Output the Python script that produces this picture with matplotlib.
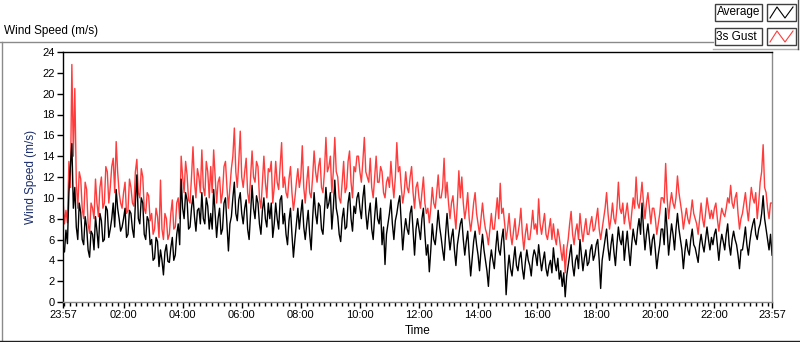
import numpy as np
import matplotlib
matplotlib.use("Agg")
import matplotlib.pyplot as plt
from matplotlib.lines import Line2D
from matplotlib.patches import Rectangle

# Wind speed (m/s), one reading every 3 min from 23:57 to 23:57,
# one line per hour
average = [
    5.2, 4.8, 6.9, 5.6, 10.5, 13.0, 15.2, 9.0, 11.0, 7.2, 6.0, 9.5, 8.6, 6.0, 5.5, 8.2, 7.2, 5.0, 4.3, 6.8,
    6.5, 5.0, 8.2, 6.8, 5.2, 8.5, 7.8, 5.8, 6.0, 9.2, 8.8, 6.2, 7.0, 8.0, 9.5, 7.2, 10.8, 9.0, 8.0, 6.8,
    7.2, 8.0, 9.0, 6.2, 6.5, 8.8, 8.5, 7.0, 6.2, 9.5, 12.2, 8.0, 7.5, 10.0, 9.5, 6.5, 6.0, 8.2, 7.8, 5.5,
    6.0, 4.0, 4.2, 6.2, 5.8, 3.4, 5.0, 4.0, 2.6, 4.8, 5.5, 3.9, 3.8, 5.2, 6.2, 4.0, 4.5, 6.5, 7.5, 5.5,
    11.8, 9.0, 8.0, 10.5, 9.8, 7.0, 7.2, 9.0, 10.2, 8.2, 6.8, 8.8, 9.0, 7.5, 10.5, 8.0, 7.5, 10.0, 9.2, 7.0,
    8.5, 7.0, 10.8, 8.5, 6.2, 8.0, 9.0, 6.5, 7.0, 9.5, 10.0, 7.5, 4.9, 7.5, 8.2, 10.0, 11.5, 8.5, 7.8, 9.8,
    10.5, 8.5, 7.5, 9.0, 9.8, 7.0, 6.0, 8.5, 11.2, 9.0, 8.0, 10.2, 9.5, 7.5, 6.5, 8.8, 10.0, 8.0, 7.2, 9.5,
    8.0, 9.5, 6.2, 7.5, 9.5, 8.0, 7.0, 9.8, 10.2, 7.5, 8.5, 6.5, 5.5, 7.8, 9.0, 6.5, 4.3, 6.0, 7.5, 9.0,
    7.0, 8.5, 9.8, 7.2, 6.0, 7.5, 8.8, 6.5, 5.0, 8.0, 10.5, 8.5, 7.5, 9.5, 9.2, 7.0, 6.5, 8.8, 11.0, 9.0,
    9.5, 10.5, 7.0, 9.0, 11.7, 9.0, 8.2, 6.5, 5.8, 8.0, 9.0, 7.0, 7.2, 9.5, 10.5, 8.0, 6.8, 9.2, 8.5, 10.0,
    10.5, 9.0, 8.0, 10.0, 11.2, 8.5, 7.0, 8.5, 9.5, 7.0, 6.0, 8.2, 10.0, 8.0, 7.5, 9.0, 5.5, 7.2, 3.6, 6.5,
    7.5, 8.5, 9.8, 7.5, 6.0, 7.8, 8.5, 9.5, 10.2, 7.5, 5.0, 6.8, 8.0, 7.0, 6.5, 8.5, 9.2, 6.8, 4.5, 7.0,
    8.0, 7.0, 6.0, 8.0, 9.0, 6.5, 4.5, 5.5, 2.9, 5.0, 7.5, 6.0, 5.5, 7.0, 8.8, 7.2, 6.2, 5.0, 4.0, 6.5,
    8.5, 6.5, 5.0, 6.2, 7.0, 5.0, 3.5, 5.5, 6.5, 7.5, 8.0, 6.0, 4.5, 5.8, 6.8, 4.5, 2.5, 4.2, 5.8, 6.8,
    5.5, 4.5, 3.0, 5.0, 6.5, 5.0, 4.0, 3.0, 1.5, 3.8, 5.0, 4.0, 3.2, 5.2, 6.8, 5.0, 4.5, 6.0, 7.0, 4.5,
    0.7, 3.0, 4.5, 3.2, 2.5, 4.0, 5.3, 3.5, 3.0, 4.2, 4.8, 3.2, 2.2, 3.8, 5.0, 4.0, 3.5, 2.5, 4.2, 5.0,
    4.5, 3.5, 5.5, 4.2, 3.0, 4.0, 4.8, 3.2, 2.5, 3.5, 4.0, 2.8, 5.2, 3.8, 3.0, 4.2, 2.2, 3.0, 1.5, 2.8,
    0.5, 2.5, 3.5, 4.5, 5.5, 3.5, 2.5, 4.0, 4.5, 3.2, 6.0, 4.5, 3.0, 4.2, 5.0, 3.5, 3.8, 5.0, 5.5, 4.0,
    4.5, 5.5, 6.0, 4.0, 1.3, 4.0, 5.0, 6.0, 7.0, 5.2, 4.0, 5.5, 6.5, 4.8, 3.5, 5.5, 7.2, 6.0, 5.5, 6.8,
    4.0, 5.5, 6.8, 5.0, 3.5, 5.5, 7.0, 6.0, 5.5, 7.0, 8.0, 6.5, 9.5, 7.0, 5.0, 6.5, 7.5, 6.0, 4.5, 6.0,
    6.5, 5.0, 3.2, 4.5, 5.5, 7.0, 7.0, 5.5, 9.0, 7.0, 4.5, 6.0, 7.5, 6.5, 5.0, 7.0, 8.5, 7.0, 6.0, 5.0,
    3.2, 4.8, 6.0, 5.0, 4.5, 6.0, 7.0, 5.5, 5.2, 4.5, 3.8, 5.5, 6.5, 5.5, 4.8, 6.0, 7.2, 6.0, 5.0, 6.2,
    5.5, 6.5, 7.0, 5.5, 4.0, 5.5, 6.5, 5.8, 5.0, 6.5, 7.5, 5.5, 4.5, 6.0, 6.8, 6.0, 5.5, 4.5, 3.2, 5.0,
    5.0, 6.0, 7.2, 5.5, 4.5, 5.8, 6.8, 7.5, 8.0, 6.5, 6.0, 7.0, 7.5, 8.5, 10.2, 8.0, 7.0, 6.0, 5.0, 6.5, 4.5,
]
gust = [
    9.8, 7.5, 8.8, 7.6, 13.5, 11.0, 22.8, 14.0, 20.5, 11.5, 9.0, 12.5, 11.8, 9.0, 8.0, 11.5, 10.8, 7.5, 6.6, 9.5,
    9.0, 8.0, 11.8, 9.5, 8.2, 11.0, 12.0, 9.0, 9.5, 13.0, 12.5, 9.5, 11.0, 13.0, 13.8, 10.5, 15.4, 12.5, 10.5, 9.5,
    9.0, 10.5, 11.5, 8.5, 8.8, 11.8, 11.0, 9.5, 9.2, 12.5, 13.7, 10.5, 10.0, 12.8, 12.0, 9.0, 8.5, 10.5, 10.2, 7.8,
    8.5, 6.5, 7.0, 9.0, 8.2, 6.2, 11.7, 7.0, 6.0, 8.5, 8.0, 6.0, 6.5, 8.5, 9.8, 7.0, 7.2, 9.5, 10.0, 8.0,
    14.0, 12.0, 10.5, 13.5, 12.2, 9.8, 9.5, 12.0, 14.9, 11.5, 10.0, 12.8, 12.0, 10.5, 14.6, 11.0, 10.2, 13.5, 12.5, 10.0,
    13.0, 10.5, 14.6, 12.0, 9.5, 11.5, 12.0, 9.5, 10.5, 13.0, 13.5, 11.0, 9.0, 11.0, 12.8, 14.0, 16.7, 12.5, 11.0, 13.5,
    16.4, 12.0, 11.0, 12.5, 13.8, 10.5, 9.5, 12.0, 14.5, 12.0, 11.5, 13.5, 13.0, 10.0, 9.0, 11.5, 14.0, 11.5, 10.0, 12.8,
    12.5, 13.5, 9.5, 11.0, 13.5, 11.5, 10.8, 13.0, 15.3, 11.0, 12.0, 10.5, 10.0, 11.8, 13.0, 10.5, 8.8, 10.0, 11.5, 12.8,
    11.0, 12.0, 15.0, 11.0, 9.5, 11.5, 13.0, 10.5, 10.0, 12.0, 14.5, 12.5, 11.5, 13.0, 13.8, 11.0, 10.5, 12.5, 15.8, 12.5,
    13.0, 14.0, 10.5, 12.5, 15.8, 12.5, 12.0, 10.0, 9.5, 11.5, 13.5, 10.5, 11.0, 13.5, 14.5, 11.5, 10.0, 13.0, 12.5, 14.0,
    14.0, 12.5, 11.5, 13.5, 15.8, 12.5, 12.0, 11.5, 13.8, 11.0, 10.0, 12.0, 14.0, 11.5, 11.5, 13.0, 12.5, 10.5, 10.0, 11.5,
    12.0, 11.0, 13.5, 11.5, 10.0, 12.0, 15.3, 12.5, 13.0, 11.0, 9.5, 10.5, 12.5, 11.0, 10.5, 12.0, 13.0, 10.5, 9.0, 11.0,
    11.5, 10.0, 9.0, 10.5, 12.0, 9.5, 8.5, 9.0, 7.6, 9.0, 11.0, 9.5, 9.0, 10.5, 12.2, 10.0, 10.0, 11.0, 13.8, 10.0,
    11.5, 9.5, 8.0, 9.5, 10.2, 8.5, 7.0, 9.5, 12.6, 10.0, 12.0, 9.5, 8.0, 9.0, 10.5, 8.0, 6.8, 8.0, 9.5, 10.5,
    8.5, 7.5, 6.5, 8.0, 9.5, 8.0, 7.0, 6.5, 5.5, 7.0, 8.5, 7.0, 7.0, 8.5, 10.0, 8.0, 11.4, 8.5, 9.0, 7.5,
    6.0, 7.0, 8.5, 6.5, 5.5, 6.8, 8.0, 6.0, 6.5, 7.5, 9.0, 6.5, 5.0, 6.5, 7.5, 6.0, 6.0, 7.2, 8.8, 7.0,
    7.5, 6.5, 9.9, 7.5, 6.5, 7.5, 8.5, 6.5, 6.0, 7.0, 8.0, 6.0, 7.5, 6.2, 5.5, 7.0, 6.2, 5.0, 4.0, 5.5,
    2.8, 5.0, 6.0, 7.5, 8.7, 6.5, 5.5, 6.8, 7.5, 6.0, 8.5, 7.0, 5.8, 7.0, 8.0, 6.5, 6.5, 7.5, 8.2, 6.8,
    7.0, 8.0, 9.0, 7.0, 6.0, 7.0, 8.0, 9.0, 10.5, 8.5, 7.0, 8.0, 9.5, 8.0, 7.5, 9.0, 11.5, 9.0, 8.5, 9.5,
    7.5, 8.5, 9.5, 8.0, 7.0, 8.5, 10.0, 9.0, 12.0, 9.5, 9.0, 10.0, 11.5, 9.5, 8.0, 9.5, 10.5, 9.0, 7.5, 9.0,
    9.0, 8.0, 6.5, 7.5, 8.5, 10.0, 10.0, 9.5, 13.3, 10.0, 8.0, 9.5, 10.5, 9.5, 9.0, 10.0, 12.1, 10.5, 9.5, 8.5,
    7.0, 8.0, 9.0, 8.0, 7.5, 8.5, 9.8, 8.5, 8.0, 7.5, 6.5, 8.0, 9.5, 8.0, 7.2, 8.5, 10.0, 9.0, 8.0, 8.8,
    8.0, 9.0, 9.5, 8.0, 6.8, 8.0, 9.0, 8.5, 8.2, 9.0, 10.0, 9.5, 11.2, 9.5, 9.0, 10.0, 10.5, 8.5, 7.0, 8.0,
    8.5, 9.5, 10.5, 9.0, 7.8, 9.5, 11.0, 10.0, 9.5, 10.5, 8.0, 9.5, 11.5, 12.5, 15.1, 11.0, 10.5, 9.0, 8.0, 9.5, 9.5,
]
# minutes after midnight, 23:57 the day before -> 23:57
minutes = np.arange(len(average)) * 3 - 3

tick_pos = [-3] + list(range(120, 1321, 120)) + [1437]
tick_labels = ["23:57"] + ["%02d:00" % h for h in range(2, 23, 2)] + ["23:57"]

W, H = 800, 342
font = "Liberation Sans"
navy = "#1b2d6b"
red = "#ff3b3b"

fig = plt.figure(figsize=(W / 100, H / 100), dpi=100)


def fx(x):
    return x / W


def fy(y):
    return 1 - y / H


ax = fig.add_axes([fx(63), fy(302), fx(772) - fx(63), fy(52) - fy(302)])
ax.plot(minutes, gust, color=red, lw=1.0, label="3s Gust")
ax.plot(minutes, average, color="black", lw=1.0, label="Average")

ax.set_xlim(-3, 1437)
ax.set_ylim(0, 24)
ax.set_yticks(range(0, 25, 2))
ax.set_xticks(tick_pos)
ax.set_xticklabels(tick_labels)
ax.set_xticks([m for m in range(0, 1437, 12) if m not in tick_pos], minor=True)

ax.tick_params(axis="both", which="major", direction="out", length=4, width=1,
               colors="black", labelsize=8, pad=2)
ax.tick_params(axis="x", which="minor", direction="out", length=3, width=1, color="black")
for lab in ax.get_xticklabels() + ax.get_yticklabels():
    lab.set_fontfamily(font)

ax.spines["left"].set_color("black")
ax.spines["top"].set_color("black")
ax.spines["right"].set_color("#8a8a8a")
ax.spines["bottom"].set_color("#8a8a8a")
for s in ax.spines.values():
    s.set_linewidth(1)

ax.set_ylabel("Wind Speed (m/s)", fontsize=8.5, family=font, color=navy, labelpad=4)
ax.set_xlabel("Time", fontsize=8.5, family=font, color="black", labelpad=3)

# panel frame and caption
fig.add_artist(Line2D([fx(0), fx(713)], [fy(42), fy(42)], color="#8a8a8a", lw=1))
fig.add_artist(Line2D([fx(1.5), fx(1.5)], [fy(42), fy(341)], color="#8a8a8a", lw=1))
fig.add_artist(Line2D([fx(0), fx(800)], [fy(340.5), fy(340.5)], color="#202020", lw=1))
fig.add_artist(Line2D([fx(713), fx(798)], [fy(48.5), fy(48.5)], color="#b0b0b0", lw=1))
fig.add_artist(Line2D([fx(798), fx(798)], [fy(0), fy(48.5)], color="#505050", lw=1))
fig.text(fx(4), fy(31), "Wind Speed (m/s)", fontsize=8.5, family=font, va="center", ha="left")

# legend boxes
for i, (name, col) in enumerate([("Average", "black"), ("3s Gust", red)]):
    top = 4 + i * 24
    fig.add_artist(Rectangle((fx(715), fy(top + 17)), fx(47), fy(0) - fy(17),
                             fill=False, ec="#404040", lw=1))
    fig.text(fx(716.5), fy(top + 8.5), name, fontsize=8.5, family=font, va="center", ha="left")
    fig.add_artist(Rectangle((fx(767), fy(top + 17)), fx(29), fy(0) - fy(17),
                             fill=False, ec="#404040", lw=1))
    fig.add_artist(Line2D([fx(770), fx(777), fx(785), fx(793)],
                          [fy(top + 14), fy(top + 3), fy(top + 14), fy(top + 3)],
                          color=col, lw=0.8))

fig.savefig("out.png", dpi=100)
